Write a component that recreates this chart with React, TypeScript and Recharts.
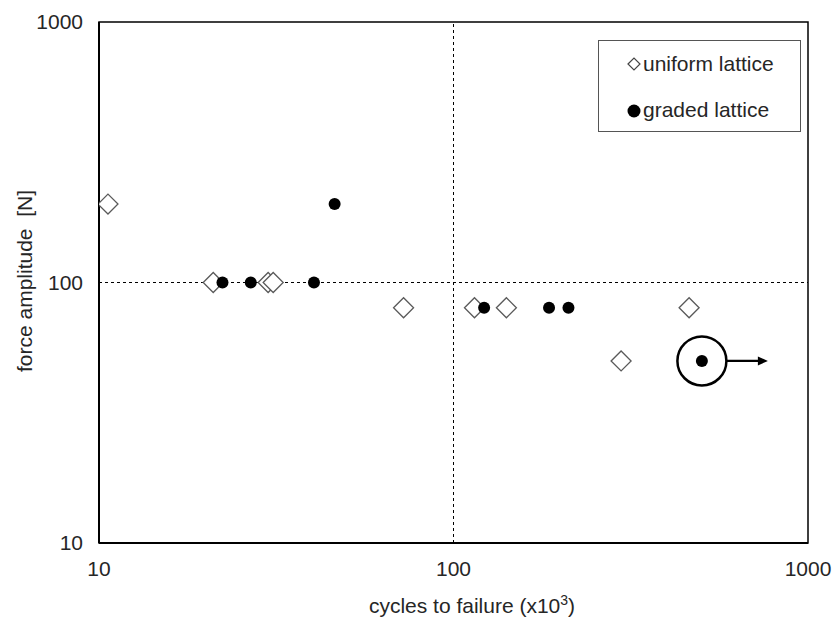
import {
  Label,
  Legend,
  ReferenceArea,
  ReferenceLine,
  Scatter,
  ScatterChart,
  XAxis,
  YAxis,
} from 'recharts';

const FONT = '"Liberation Sans", Arial, sans-serif';
const INK = '#262626';
const FS = 21;

// cycles to failure (x10^3) and force amplitude [N]
const uniformCycles = [10.6, 21, 30, 31, 72.3, 114.6, 141, 297, 462];
const uniformForce = [200, 100, 100, 100, 80, 80, 80, 50, 80];
const gradedCycles = [22.3, 26.8, 40.4, 46.2, 122, 186, 211, 502];
const gradedForce = [100, 100, 100, 200, 80, 80, 80, 50];
// the graded specimen that did not fail (circled, arrow = run-out)
const runoutCycles = [502];
const runoutForce = [50];

const axisTicks = [10, 100, 1000];

const zip = (xs: number[], ys: number[]) => xs.map((x, i) => ({ x, y: ys[i] }));
const uniform = zip(uniformCycles, uniformForce);
const graded = zip(gradedCycles, gradedForce);
const runout = zip(runoutCycles, runoutForce);

function Diamond({ cx, cy }: any) {
  const h = 10;
  return (
    <polygon
      points={`${cx - h},${cy} ${cx},${cy - h} ${cx + h},${cy} ${cx},${cy + h}`}
      fill="#fff"
      stroke="#5a5a5a"
      strokeWidth={1.3}
    />
  );
}

function Dot({ cx, cy }: any) {
  return <circle cx={cx} cy={cy} r={6} fill="#000" />;
}

function Runout({ cx, cy }: any) {
  const r = 24.5;
  const tip = cx + 66;
  return (
    <g>
      <circle cx={cx} cy={cy} r={r} fill="none" stroke="#000" strokeWidth={2.5} />
      <line x1={cx + r} y1={cy} x2={tip - 8} y2={cy} stroke="#000" strokeWidth={2.2} />
      <polygon points={`${tip},${cy} ${tip - 10},${cy - 4.5} ${tip - 10},${cy + 4.5}`} fill="#000" />
    </g>
  );
}

function LegendBox() {
  return (
    <div
      style={{
        width: 203,
        height: 92,
        border: '1px solid #555',
        background: '#fff',
        fontFamily: FONT,
        fontSize: FS,
        color: INK,
        boxSizing: 'border-box',
        position: 'relative',
        lineHeight: 1,
      }}
    >
      <svg width={14} height={14} style={{ position: 'absolute', left: 28, top: 16 }}>
        <polygon points="1,7 7,1 13,7 7,13" fill="#fff" stroke="#444" strokeWidth={1.2} />
      </svg>
      <div style={{ position: 'absolute', left: 44, top: 12 }}>uniform lattice</div>
      <svg width={14} height={14} style={{ position: 'absolute', left: 28, top: 63 }}>
        <circle cx={7} cy={7} r={6.5} fill="#000" />
      </svg>
      <div style={{ position: 'absolute', left: 44, top: 58 }}>graded lattice</div>
    </div>
  );
}

function XTitle() {
  return (
    <text x={472} y={613} textAnchor="middle" fontFamily={FONT} fontSize={FS} fill={INK}>
      cycles to failure (x10
      <tspan fontSize={14} dy={-8}>3</tspan>
      <tspan dy={8}>)</tspan>
    </text>
  );
}

function YTitle() {
  return (
    <text
      x={24}
      y={281}
      transform="rotate(-90 24 281)"
      textAnchor="middle"
      dominantBaseline="central"
      fontFamily={FONT}
      fontSize={FS}
      fill={INK}
      style={{ whiteSpace: 'pre' }}
    >
      {'force amplitude  [N]'}
    </text>
  );
}

export default function App() {
  const tick = { fill: INK, fontSize: FS, fontFamily: FONT };
  return (
    <div style={{ position: 'absolute', left: 0, top: 0, width: 837, height: 618, background: '#fff' }}>
      <ScatterChart width={837} height={618} margin={{ top: 22, right: 29, bottom: 35, left: 29 }}>
        <XAxis
          type="number"
          dataKey="x"
          scale="log"
          domain={[10, 1000]}
          ticks={axisTicks}
          allowDataOverflow
          height={40}
          tickSize={0}
          tickMargin={18}
          tick={tick}
          axisLine={{ stroke: '#000', strokeWidth: 2 }}
        >
          <Label content={<XTitle />} />
        </XAxis>
        <YAxis
          type="number"
          dataKey="y"
          scale="log"
          domain={[10, 1000]}
          ticks={axisTicks}
          allowDataOverflow
          width={70}
          tickSize={0}
          tickMargin={16}
          tick={tick}
          axisLine={{ stroke: '#000', strokeWidth: 2 }}
        >
          <Label content={<YTitle />} />
        </YAxis>
        <ReferenceArea x1={10} x2={1000} y1={10} y2={1000} fill="none" stroke="#000" strokeWidth={1.5} />
        <ReferenceLine x={100} stroke="#000" strokeDasharray="3 3" strokeWidth={1} />
        <ReferenceLine y={100} stroke="#000" strokeDasharray="3 3" strokeWidth={1} />
        <Scatter name="uniform lattice" data={uniform} shape={<Diamond />} isAnimationActive={false} />
        <Scatter name="graded lattice" data={graded} shape={<Dot />} isAnimationActive={false} />
        <Scatter name="run-out" data={runout} shape={<Runout />} isAnimationActive={false} legendType="none" />
        <Legend
          layout="vertical"
          align="center"
          verticalAlign="middle"
          content={() => <LegendBox />}
          wrapperStyle={{ left: 598, top: 40, width: 203, height: 92 }}
        />
      </ScatterChart>
    </div>
  );
}
